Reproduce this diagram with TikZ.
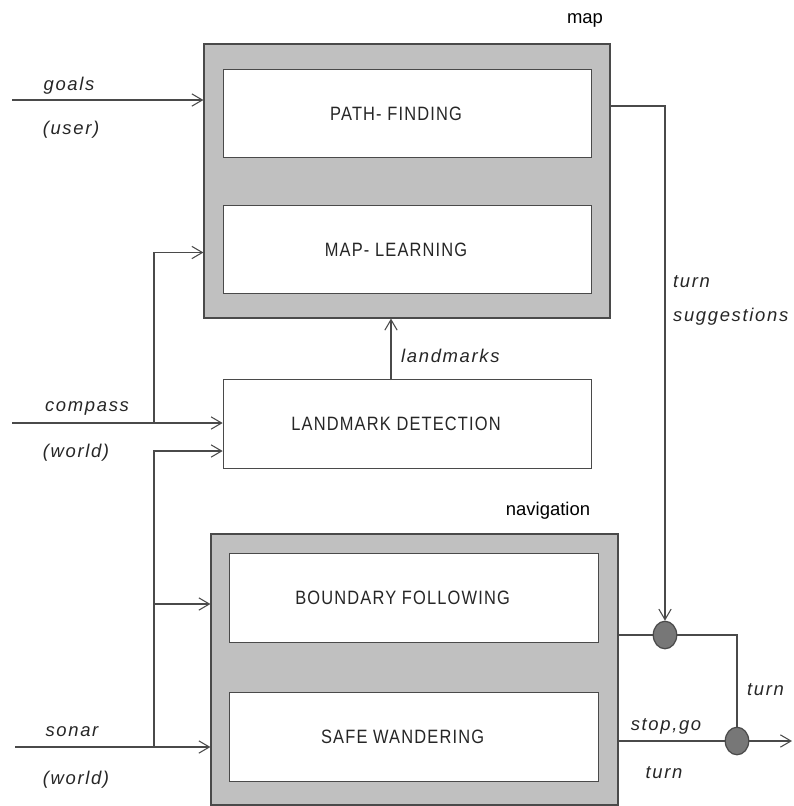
\documentclass[tikz,border=0pt]{standalone}
\usepackage{fontspec}
\setmainfont{Liberation Sans}[LetterSpace=9]
\newfontfamily\plainsans{Liberation Sans}
\newfontfamily\blocksans{Liberation Sans}[FakeStretch=0.85,LetterSpace=6]
\usepackage{tikz}
\usetikzlibrary{arrows.meta,calc,shapes.geometric}
\definecolor{boxgray}{HTML}{C0C0C0}
\definecolor{linegray}{HTML}{4A4A4A}
\definecolor{dotgray}{HTML}{777777}
\tikzset{
  outerbox/.style={draw=linegray,fill=boxgray,line width=0.7pt},
  innerbox/.style={draw=linegray,fill=white,line width=0.7pt,
    minimum width=7.37cm,minimum height=1.77cm},
  boxtxt/.style={xshift=-6.5pt,font=\blocksans\fontsize{11}{13}\selectfont,text=black!85},
  boxlbl/.style={font=\plainsans\fontsize{10.5}{12}\selectfont},
  sig/.style={font=\itshape\fontsize{10.5}{12}\selectfont,text=black!85},
  wire/.style={draw=linegray,line width=0.6pt},
  feed/.style={wire,-{Straight Barb[length=6pt,width=7pt]}},
  junction/.style={ellipse,draw=linegray,fill=dotgray,line width=0.7pt,
    minimum width=0.47cm,minimum height=0.55cm,inner sep=0pt}
}
\begin{document}
\begin{tikzpicture}[x=0.02cm,y=-0.02cm]
\useasboundingbox (0,0) rectangle (794,806);

\node[outerbox,minimum width=8.12cm,minimum height=5.48cm] (map) at (407,181) {};
\node[innerbox,label={[boxtxt]center:PATH- FINDING}] (pf) at (407.5,113.5) {};
\node[innerbox,label={[boxtxt]center:MAP- LEARNING}] (ml) at (407.5,249.5) {};
\node[boxlbl] (maplbl) at (585,20) {map};

\node[innerbox,label={[boxtxt]center:LANDMARK DETECTION}] (lmd) at (407.5,424) {};

\node[outerbox,minimum width=8.14cm,minimum height=5.42cm] (nav) at (414.5,669.5) {};
\node[innerbox,label={[boxtxt]center:BOUNDARY FOLLOWING}] (bf) at (414,598) {};
\node[innerbox,label={[boxtxt]center:SAFE WANDERING}] (sw) at (414,737) {};
\node[boxlbl] (navlbl) at (548,511) {navigation};

\node[junction] (c1) at (665,635) {};
\node[junction] (c2) at (737,741) {};

% inputs
\coordinate (goalsin) at (12,100);
\coordinate (compin) at (12,423);
\coordinate (compsplit) at (154,423);
\coordinate (sonarin) at (15,747);
\coordinate (sonarsplit) at (154,747);
\coordinate (worldlm) at (154,451);
\coordinate (worldbf) at (154,604);
\coordinate (lmup) at (391,380);
\coordinate (sugg) at (665,106);
\coordinate (out) at (792,741);

\draw[feed] (goalsin) -- (goalsin -| map.west);
\draw[feed] (compin) -- (compin -| lmd.west);
\draw[feed] (compsplit) |- ($(ml.west -| map.west)+(0,3)$);
\draw[feed] (sonarin) -- (sonarin -| nav.west);
\draw[feed] (sonarsplit) |- (worldlm -| lmd.west);
\draw[feed] (worldbf) -- (worldbf -| nav.west);
\draw[feed] (lmup) -- (lmup |- map.south);

\draw[feed] (sugg -| map.east) -- (sugg) -- (c1.north);
\draw[wire] (c1 -| nav.east) -- (c1);
\draw[wire] (c1) -| (c2);
\draw[wire] (c2 -| nav.east) -- (c2);
\draw[feed] (c2) -- (out);

\node[sig] (goals) at (69,86) {goals};
\node[sig] (user) at (71,130) {(user)};
\node[sig] (compass) at (87,408) {compass};
\node[sig] (world1) at (76,453) {(world)};
\node[sig] (sonar) at (72,732) {sonar};
\node[sig] (world2) at (76,780) {(world)};
\node[sig,anchor=west] (lmk) at (395,356) {landmarks};
\node[sig,anchor=west] (turn1) at (667,282) {turn};
\node[sig,anchor=west] (suggl) at (667,317) {suggestions};
\node[sig,anchor=west] (turn2) at (741,690) {turn};
\node[sig] (stopgo) at (666,726) {stop,go};
\node[sig] (turn3) at (664,773) {turn};
\end{tikzpicture}
\end{document}
